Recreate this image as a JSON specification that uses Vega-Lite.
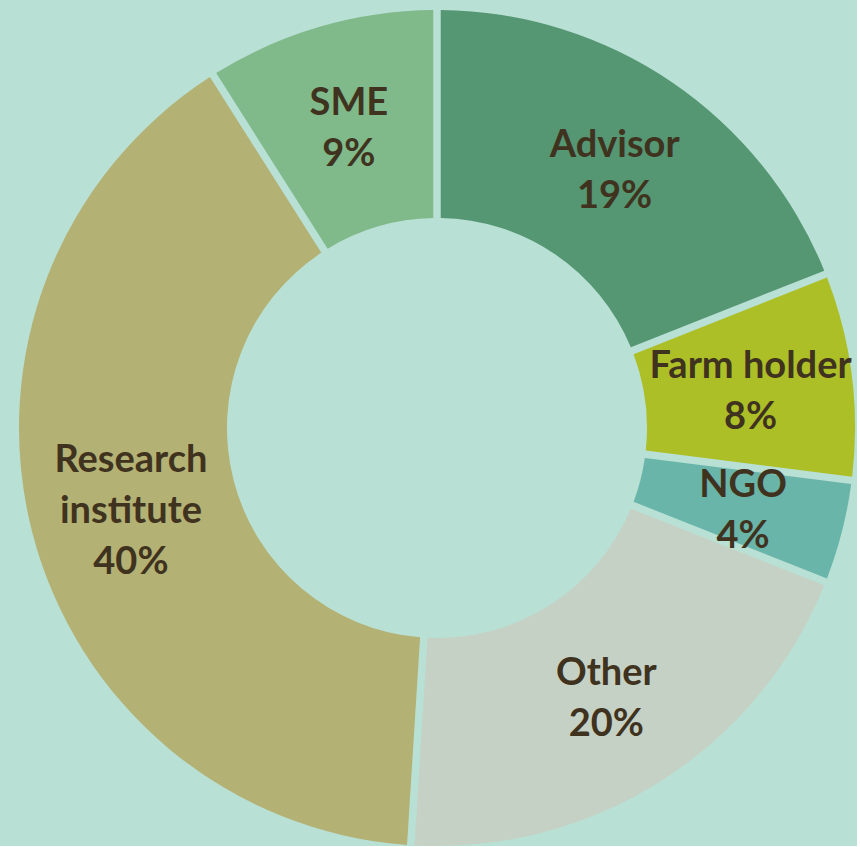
{
  "$schema": "https://vega.github.io/schema/vega-lite/v6.json",
  "width": 840,
  "height": 836,
  "padding": {"left": 17, "top": 10, "right": 0, "bottom": 0},
  "background": "#b9e0d4",
  "config": {"view": {"stroke": null}},
  "data": {
    "values": [
      {"category": "Advisor", "label": "Advisor\n19%", "lines": 2, "value": 19, "order": 1},
      {"category": "Farm holder", "label": "Farm holder\n8%", "lines": 2, "value": 8, "order": 2},
      {"category": "NGO", "label": "NGO\n4%", "lines": 2, "value": 4, "order": 3},
      {"category": "Other", "label": "Other\n20%", "lines": 2, "value": 20, "order": 4},
      {"category": "Research institute", "label": "Research\ninstitute\n40%", "lines": 3, "value": 40, "order": 5},
      {"category": "SME", "label": "SME\n9%", "lines": 2, "value": 9, "order": 6}
    ]
  },
  "encoding": {
    "theta": {"field": "value", "type": "quantitative", "stack": true},
    "order": {"field": "order", "type": "quantitative"}
  },
  "layer": [
    {
      "mark": {"type": "arc", "outerRadius": 418, "innerRadius": 210, "padAngle": 0.016},
      "encoding": {
        "color": {
          "field": "category",
          "type": "nominal",
          "legend": null,
          "scale": {
            "domain": ["Advisor", "Farm holder", "NGO", "Other", "Research institute", "SME"],
            "range": ["#559673", "#adbf27", "#6ab5aa", "#c5d1c5", "#b3b173", "#80b98a"]
          }
        }
      }
    },
    {
      "mark": {
        "type": "text",
        "radius": 316,
        "dy": -21,
        "font": "Lato",
        "fontWeight": "bold",
        "fontSize": 38,
        "lineHeight": 51,
        "lineBreak": "\n",
        "color": "#3f3320",
        "align": "center",
        "baseline": "middle"
      },
      "encoding": {
        "text": {"condition": {"test": "datum.lines == 2", "field": "label", "type": "nominal"}, "value": ""}
      }
    },
    {
      "mark": {
        "type": "text",
        "radius": 316,
        "dy": -46,
        "font": "Lato",
        "fontWeight": "bold",
        "fontSize": 38,
        "lineHeight": 51,
        "lineBreak": "\n",
        "color": "#3f3320",
        "align": "center",
        "baseline": "middle"
      },
      "encoding": {
        "text": {"condition": {"test": "datum.lines == 3", "field": "label", "type": "nominal"}, "value": ""}
      }
    }
  ]
}
